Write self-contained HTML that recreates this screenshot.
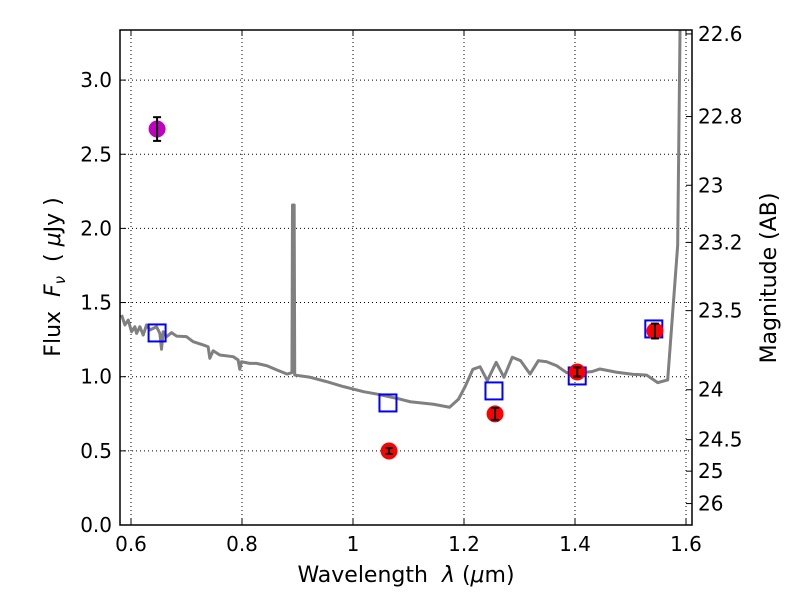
<!DOCTYPE html>
<html><head><meta charset="utf-8"><style>
body{margin:0;background:#fff}
svg text{font-family:"DejaVu Sans","Liberation Sans",sans-serif;fill:#000}
</style></head><body>
<svg id="c" width="800" height="600" viewBox="0 0 800 600" xmlns="http://www.w3.org/2000/svg"></svg>
<script>
const specLam=[0.583,0.589,0.595,0.601,0.607,0.610,0.616,0.622,0.628,0.634,0.646,0.652,0.655,0.658,0.664,0.673,0.682,0.700,0.712,0.730,0.739,0.742,0.748,0.760,0.784,0.793,0.796,0.799,0.814,0.826,0.845,0.863,0.881,0.890,0.891,0.894,0.895,0.923,0.953,0.983,1.019,1.043,1.079,1.103,1.145,1.174,1.190,1.202,1.216,1.229,1.242,1.258,1.272,1.287,1.302,1.319,1.334,1.349,1.367,1.385,1.409,1.430,1.445,1.475,1.505,1.529,1.549,1.567,1.585,1.590];
const specFlux=[1.416,1.349,1.382,1.303,1.337,1.292,1.337,1.281,1.349,1.315,1.337,1.292,1.185,1.303,1.270,1.297,1.274,1.270,1.236,1.214,1.202,1.124,1.175,1.146,1.135,1.113,1.050,1.101,1.090,1.090,1.074,1.045,1.018,1.027,2.158,2.158,1.011,0.996,0.966,0.933,0.899,0.883,0.854,0.831,0.814,0.794,0.848,0.933,1.050,1.067,0.973,1.097,0.996,1.131,1.108,1.018,1.108,1.101,1.074,1.027,1.027,1.034,1.052,1.030,1.016,1.011,0.960,0.978,1.886,3.6];
const modelLam=[0.647,1.063,1.254,1.404,1.542];
const modelFlux=[1.295,0.823,0.904,1.005,1.322];
const obsLam=[1.065,1.256,1.404,1.544];
const obsFlux=[0.499,0.749,1.032,1.308];
const obsErr=[0.02,0.04,0.03,0.05];
const extraLam=[0.647];
const extraFlux=[2.670];
const extraErr=[0.08];
const xTicks=[0.6,0.8,1,1.2,1.4,1.6];
const xTickLabels=["0.6","0.8","1","1.2","1.4","1.6"];
const yTicks=[0,0.5,1,1.5,2,2.5,3];
const yTickLabels=["0.0","0.5","1.0","1.5","2.0","2.5","3.0"];
const magTicks=[22.6,22.8,23,23.2,23.5,24,24.5,25,26];
const magTickLabels=["22.6","22.8","23","23.2","23.5","24","24.5","25","26"];

const L=120,R=692,T=30,B=525;
const X=v=>131+(v-0.6)*555;
const Y=v=>B-v*148.3;
const svg=document.getElementById('c');
const NS='http://www.w3.org/2000/svg';
function mk(tag,at,parent){const e=document.createElementNS(NS,tag);for(const k in at)e.setAttribute(k,at[k]);(parent||svg).appendChild(e);return e;}
const defs=mk('defs',{});const cp=mk('clipPath',{id:'clip'},defs);mk('rect',{x:L,y:T,width:R-L,height:B-T},cp);

xTicks.forEach((t,i)=>{
 const g=mk('line',{x1:X(t),x2:X(t),y1:T,y2:B,stroke:'#000','stroke-width':1,'stroke-dasharray':'1,3'});
 
 
 const tk=mk('line',{x1:X(t),x2:X(t),y1:B,y2:B-6,stroke:'#000'});
 
 
 mk('line',{x1:X(t),x2:X(t),y1:T,y2:T+6,stroke:'#000'});
 const tx=mk('text',{x:X(t),y:B+26,'text-anchor':'middle','font-size':20});
 tx.textContent=xTickLabels[i];
 
 
});
yTicks.forEach((t,i)=>{
 const g=mk('line',{x1:L,x2:R,y1:Y(t),y2:Y(t),stroke:'#000','stroke-width':1,'stroke-dasharray':'1,3'});
 
 
 mk('line',{x1:L,x2:L+6,y1:Y(t),y2:Y(t),stroke:'#000'});
 const tx=mk('text',{x:L-8,y:Y(t)+7,'text-anchor':'end','font-size':20});
 tx.textContent=yTickLabels[i];
 
 
});
magTicks.forEach((m,i)=>{
 const f=Math.pow(10,(23.9-m)/2.5);const y=Y(f);
 mk('line',{x1:R,x2:R-6,y1:y,y2:y,stroke:'#000'});
 const tx=mk('text',{x:R+6,y:y+7,'text-anchor':'start','font-size':20});
 tx.textContent=magTickLabels[i];
 
 
});

const g=mk('g',{'clip-path':'url(#clip)'});
const sp=mk('polyline',{points:specLam.map((l,i)=>X(l)+','+Y(specFlux[i])).join(' '),fill:'none',stroke:'#808080','stroke-width':3,'stroke-linejoin':'round'},g);


modelLam.forEach((l,i)=>{
 const r=mk('rect',{x:X(l)-8.5,y:Y(modelFlux[i])-8.5,width:17,height:17,fill:'none',stroke:'#0000ff','stroke-width':2},g);
 
 
});
function pt(l,f,e,col,name){
 const c=mk('circle',{cx:X(l),cy:Y(f),r:8.5,fill:col},g);
 
 
 const x=X(l),y1=Y(f-e),y2=Y(f+e);
 mk('line',{x1:x,x2:x,y1:y1,y2:y2,stroke:'#000','stroke-width':2},g);
 mk('line',{x1:x-4,x2:x+4,y1:y1,y2:y1,stroke:'#000','stroke-width':2},g);
 mk('line',{x1:x-4,x2:x+4,y1:y2,y2:y2,stroke:'#000','stroke-width':2},g);
}
obsLam.forEach((l,i)=>pt(l,obsFlux[i],obsErr[i],'#ff0000','observed-flux-point'));
extraLam.forEach((l,i)=>pt(l,extraFlux[i],extraErr[i],'#bf00bf','optical-flux-point'));

const fr=mk('rect',{x:L,y:T,width:R-L,height:B-T,fill:'none',stroke:'#000','stroke-width':1.5});


</script>
<svg width="800" height="600" style="position:absolute;left:0;top:0">
<text x="406" y="582" text-anchor="middle" font-size="22" font-family="DejaVu Sans, sans-serif">Wavelength&#160;&#160;<tspan font-style="italic">λ</tspan> (<tspan font-style="italic">μ</tspan>m)</text>
<text transform="translate(60,277) rotate(-90)" text-anchor="middle" font-size="22" font-family="DejaVu Sans, sans-serif">Flux&#160;&#160;<tspan font-style="italic">F</tspan><tspan font-style="italic" font-size="15" dy="5">ν</tspan><tspan dy="-5">&#160;&#160;( </tspan><tspan font-style="italic">μ</tspan>Jy )</text>
<text transform="translate(776,278) rotate(-90)" text-anchor="middle" font-size="22" font-family="DejaVu Sans, sans-serif">Magnitude (AB)</text>
</svg>
</body></html>
